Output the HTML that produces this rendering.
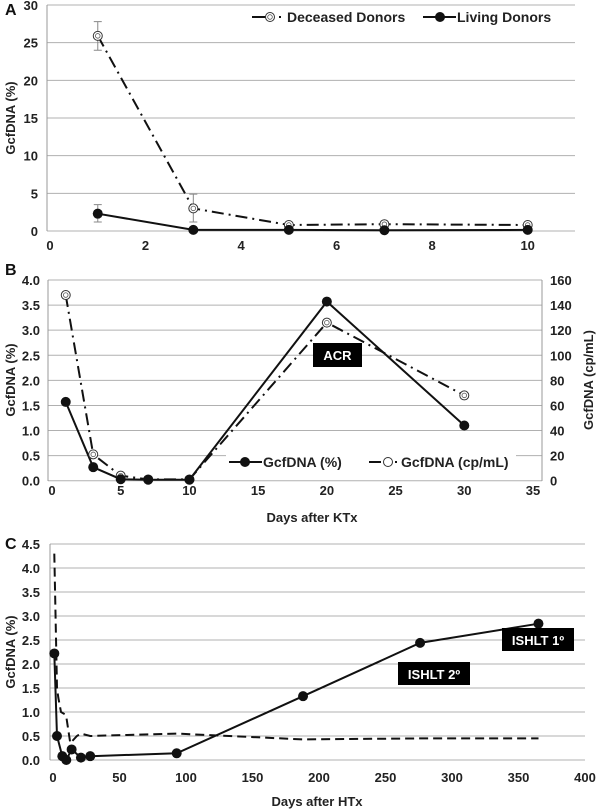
<!DOCTYPE html>
<html><head><meta charset="utf-8">
<style>
html,body{margin:0;padding:0;background:#fff;}
svg{display:block;font-family:"Liberation Sans",Arial,sans-serif;}
</style></head>
<body>
<svg id="fig" width="600" height="810" viewBox="0 0 600 810" xmlns="http://www.w3.org/2000/svg"></svg>
<script>
// Panel A data
const aDays = [1,3,5,7,10];
const aDeceased = [25.9,3.0,0.8,0.9,0.8];
const aDeceasedErrLo = [24.0,1.2,0.8,0.9,0.8];
const aDeceasedErrHi = [27.8,4.9,0.8,0.9,0.8];
const aLiving = [2.3,0.15,0.15,0.1,0.15];
const aLivingErrLo = [1.2,0.15,0.15,0.1,0.15];
const aLivingErrHi = [3.5,0.15,0.15,0.1,0.15];
const aXTicks = [0,2,4,6,8,10];
const aYTicks = [0,5,10,15,20,25,30];
// Panel B data
const bDays = [1,3,5,7,10,20,30];
const bPercent = [1.57,0.27,0.03,0.02,0.02,3.57,1.1];
const bCopies = [148,21,4,1,1,126,68];
const bXTicks = [0,5,10,15,20,25,30,35];
const bYTicks = ["0.0","0.5","1.0","1.5","2.0","2.5","3.0","3.5","4.0"];
const bY2Ticks = [0,20,40,60,80,100,120,140,160];
// Panel C data
const cDays = [1,3,7,10,14,21,28,93,188,276,365];
const cPercent = [2.22,0.5,0.08,0.0,0.22,0.05,0.08,0.14,1.33,2.44,2.84];
const cDashDays = [1,3,4,6,9,10,13,18,21,28,93,188,276,365];
const cDashVals = [4.3,1.5,1.3,1.0,0.95,0.9,0.35,0.5,0.55,0.5,0.55,0.43,0.45,0.45];
const cXTicks = [0,50,100,150,200,250,300,350,400];
const cYTicks = ["0.0","0.5","1.0","1.5","2.0","2.5","3.0","3.5","4.0","4.5"];

const svg = document.getElementById('fig');
const NS = 'http://www.w3.org/2000/svg';
function mk(tag, attrs, parent, text){
  const e = document.createElementNS(NS, tag);
  for (const k in attrs) e.setAttribute(k, attrs[k]);
  if (text !== undefined) e.textContent = text;
  (parent||svg).appendChild(e);
  return e;
}
function lin(d0,d1,r0,r1){ return v => r0 + (v-d0)/(d1-d0)*(r1-r0); }
function pathD(xs, ys, fx, fy){ return xs.map((x,i)=>(i?'L':'M')+fx(x).toFixed(1)+' '+fy(ys[i]).toFixed(1)).join(' '); }
const DASHDOT = '12,5,2,5';
const TXT = {'font-size':'13','font-weight':'bold','fill':'#222'};
function txt(x,y,s,anchor,extra,parent){
  const a = Object.assign({x:x,y:y,'text-anchor':anchor||'middle'},TXT,extra||{});
  return mk('text',a,parent,s);
}

// ================= Panel A =================
(function(){
  const g = mk('g',{});
  
  
  const fx = lin(0,10,50,527.7), fy = lin(0,30,231,5);
  aYTicks.forEach(v=>{
    const gl = mk('line',{x1:47,x2:575,y1:fy(v),y2:fy(v),stroke:'#b0b0b0','stroke-width':1},g);
    
    
    txt(38,fy(v)+5,String(v),'end',{},g);
  });
  mk('line',{x1:47,x2:47,y1:5,y2:231,stroke:'#999'},g);
  aXTicks.forEach(v=>{ txt(fx(v),250,String(v),'middle',{},g); });
  const la = mk('text',{x:5,y:15,'font-size':'16','font-weight':'bold',fill:'#111'},g,'A');
   
  const yt = txt(0,0,'GcfDNA (%)','middle',{transform:'translate(15,118) rotate(-90)','font-size':'13'},g);
   
  function err(lo,hi,name){
    aDays.forEach((d,i)=>{
      if (hi[i]-lo[i] < 0.01) return;
      const x=fx(d);
      const e = mk('path',{d:`M${x} ${fy(lo[i])}V${fy(hi[i])}M${x-4} ${fy(lo[i])}h8M${x-4} ${fy(hi[i])}h8`,stroke:'#888',fill:'none','stroke-width':1},g);
       
    });
  }
  err(aDeceasedErrLo,aDeceasedErrHi,'error-bar-deceased');
  err(aLivingErrLo,aLivingErrHi,'error-bar-living');
  const l1 = mk('path',{d:pathD(aDays,aDeceased,fx,fy),stroke:'#111','stroke-width':2,fill:'none','stroke-dasharray':DASHDOT},g);
   
  const l2 = mk('path',{d:pathD(aDays,aLiving,fx,fy),stroke:'#111','stroke-width':2,fill:'none'},g);
   
  aDays.forEach((d,i)=>{
    const c = mk('circle',{cx:fx(d),cy:fy(aDeceased[i]),r:4.5,fill:'#fff',stroke:'#333','stroke-width':1},g);
     
    mk('circle',{cx:fx(d),cy:fy(aDeceased[i]),r:2.3,fill:'none',stroke:'#555','stroke-width':0.8},g);
    const p = mk('circle',{cx:fx(d),cy:fy(aLiving[i]),r:5,fill:'#111'},g);
     
  });
  const lg = mk('g',{},g);
   
  mk('line',{x1:252,x2:266,y1:17,y2:17,stroke:'#111','stroke-width':2},lg);
  mk('circle',{cx:270,cy:17,r:4.5,fill:'#fff',stroke:'#333'},lg);
  mk('circle',{cx:270,cy:17,r:2.3,fill:'none',stroke:'#555','stroke-width':0.8},lg);
  mk('rect',{x:279,y:16,width:2,height:2,fill:'#111'},lg);
  txt(287,22,'Deceased Donors','start',{'font-size':'14'},lg);
  mk('line',{x1:423,x2:456,y1:17,y2:17,stroke:'#111','stroke-width':2},lg);
  mk('circle',{cx:440,cy:17,r:5,fill:'#111'},lg);
  txt(457,22,'Living Donors','start',{'font-size':'14'},lg);
})();

// ================= Panel B =================
(function(){
  const g = mk('g',{});
  
  
  const fx = lin(0,35,52,533), fy = lin(0,4,480.7,280), fy2 = lin(0,160,480.7,280);
  bYTicks.forEach((s,i)=>{
    const y = fy(parseFloat(s));
    const gl = mk('line',{x1:48,x2:542,y1:y,y2:y,stroke:'#b0b0b0'},g);
     
    txt(40,y+5,s,'end',{},g);
  });
  bY2Ticks.forEach(v=>{ txt(550,fy2(v)+5,String(v),'start',{},g); });
  mk('line',{x1:48,x2:48,y1:280,y2:481,stroke:'#999'},g);
  mk('line',{x1:542,x2:542,y1:280,y2:481,stroke:'#999'},g);
  bXTicks.forEach(v=>{ txt(fx(v),495,String(v),'middle',{},g); });
  const lb = mk('text',{x:5,y:275,'font-size':'16','font-weight':'bold',fill:'#111'},g,'B');
   
  const yt = txt(0,0,'GcfDNA (%)','middle',{transform:'translate(15,380) rotate(-90)','font-size':'13'},g);
   
  const yt2 = txt(0,0,'GcfDNA (cp/mL)','middle',{transform:'translate(593,380) rotate(-90)','font-size':'13'},g);
   
  const xt = txt(312,522,'Days after KTx','middle',{'font-size':'13'},g);
   
  const l2 = mk('path',{d:pathD(bDays,bCopies,fx,fy2),stroke:'#111','stroke-width':2,fill:'none','stroke-dasharray':DASHDOT},g);
   
  const l1 = mk('path',{d:pathD(bDays,bPercent,fx,fy),stroke:'#111','stroke-width':2,fill:'none'},g);
   
  bDays.forEach((d,i)=>{
    const c = mk('circle',{cx:fx(d),cy:fy2(bCopies[i]),r:4.5,fill:'#fff',stroke:'#333'},g);
     
    mk('circle',{cx:fx(d),cy:fy2(bCopies[i]),r:2.3,fill:'none',stroke:'#555','stroke-width':0.8},g);
    const p = mk('circle',{cx:fx(d),cy:fy(bPercent[i]),r:5,fill:'#111'},g);
     
  });
  const box = mk('g',{},g);
   
  mk('rect',{x:313,y:343,width:49,height:24,fill:'#000'},box);
  txt(337.5,360,'ACR','middle',{fill:'#fff','font-size':'13'},box);
  const lg = mk('g',{},g);
   
  mk('rect',{x:226,y:450,width:290,height:24,fill:'#fff'},lg);
  mk('line',{x1:229,x2:262,y1:462,y2:462,stroke:'#111','stroke-width':2},lg);
  mk('circle',{cx:245,cy:462,r:5,fill:'#111'},lg);
  txt(263,467,'GcfDNA (%)','start',{'font-size':'14'},lg);
  mk('line',{x1:369,x2:381,y1:462,y2:462,stroke:'#111','stroke-width':2},lg);
  mk('circle',{cx:388,cy:462,r:4.5,fill:'#fff',stroke:'#333'},lg);
  mk('rect',{x:395,y:461,width:2,height:2,fill:'#111'},lg);
  txt(401,467,'GcfDNA (cp/mL)','start',{'font-size':'14'},lg);
})();

// ================= Panel C =================
(function(){
  const g = mk('g',{});
  
  
  const fx = lin(0,400,53,585), fy = lin(0,4.5,760,544);
  cYTicks.forEach(s=>{
    const y = fy(parseFloat(s));
    const gl = mk('line',{x1:50,x2:585,y1:y,y2:y,stroke:'#b0b0b0'},g);
     
    txt(40,y+5,s,'end',{},g);
  });
  mk('line',{x1:50,x2:50,y1:544,y2:760,stroke:'#999'},g);
  cXTicks.forEach(v=>{ txt(fx(v),782,String(v),'middle',{},g); });
  const lc = mk('text',{x:5,y:549,'font-size':'16','font-weight':'bold',fill:'#111'},g,'C');
   
  const yt = txt(0,0,'GcfDNA (%)','middle',{transform:'translate(15,652) rotate(-90)','font-size':'13'},g);
   
  const xt = txt(317,806,'Days after HTx','middle',{'font-size':'13'},g);
   
  const ld = mk('path',{d:pathD(cDashDays,cDashVals,fx,fy),stroke:'#111','stroke-width':2,fill:'none','stroke-dasharray':'9,5'},g);
   
  const ls = mk('path',{d:pathD(cDays,cPercent,fx,fy),stroke:'#111','stroke-width':2,fill:'none'},g);
   
  cDays.forEach((d,i)=>{
    const p = mk('circle',{cx:fx(d),cy:fy(cPercent[i]),r:5,fill:'#111'},g);
     
  });
  const b1 = mk('g',{},g);
   
  mk('rect',{x:502,y:628,width:72,height:23,fill:'#000'},b1);
  txt(538,645,'ISHLT 1º','middle',{fill:'#fff','font-size':'13'},b1);
  const b2 = mk('g',{},g);
   
  mk('rect',{x:398,y:662,width:72,height:23,fill:'#000'},b2);
  txt(434,679,'ISHLT 2º','middle',{fill:'#fff','font-size':'13'},b2);
})();
</script>
</body></html>
